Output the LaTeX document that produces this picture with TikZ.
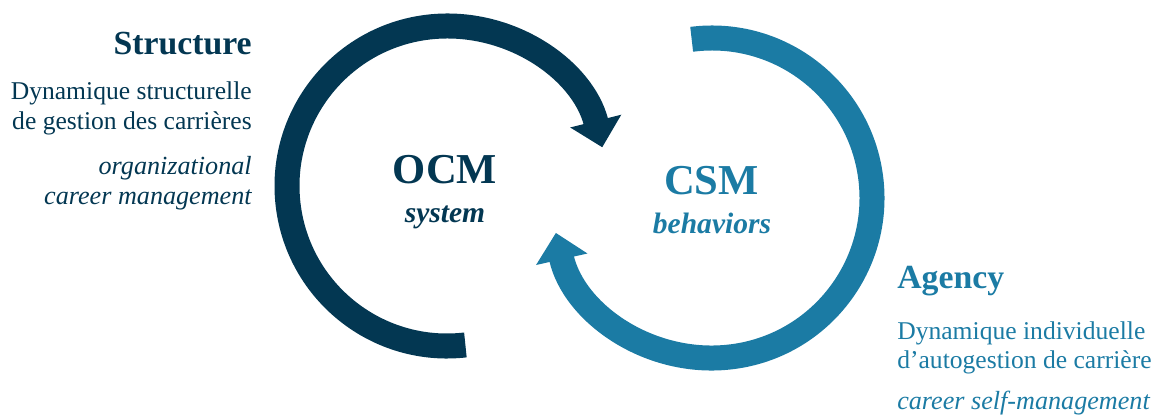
\documentclass[tikz,border=0pt]{standalone}
\usepackage{fontspec}
\setmainfont{Liberation Serif}
\usetikzlibrary{arrows.meta}
\definecolor{ocmblue}{RGB}{3,55,82}
\definecolor{csmblue}{RGB}{27,123,164}

\begin{document}
\begin{tikzpicture}[x=0.025cm, y=0.025cm, every node/.style={inner sep=0pt},
    loop/.style={line width=0.625cm, -{Triangle[width=1.275cm,length=0.675cm]}},
    head/.style={font=\fontsize{24}{28}\selectfont\bfseries},
    desc/.style={font=\fontsize{18.2}{21}\selectfont},
    trans/.style={font=\fontsize{18.6}{21}\selectfont\itshape},
    big/.style={font=\fontsize{30.3}{34}\selectfont\bfseries},
    small/.style={font=\fontsize{21}{24}\selectfont\bfseries\itshape}]
                \useasboundingbox (0,0) rectangle (1158,416);

                % Centres of the two loops
                \coordinate (ocmc) at (447,230);
                \coordinate (csmc) at (712,218);

                % Draw the two circular arrows
                \draw[loop, ocmblue] ([shift={(276.6:160)}]ocmc) arc[start angle=276.6, end angle=14, radius=160];
                \draw[loop, csmblue] ([shift={(97.3:160)}]csmc) arc[start angle=97.3, end angle=-167.4, radius=160];

                % Add labels inside the loops
                \node[big, ocmblue, anchor=base] (ocm) at (445,233) {OCM};
                \node[small, ocmblue, anchor=base] (system) at (445,194) {system};
                \node[big, csmblue, anchor=base] (csm) at (711.5,222) {CSM};
                \node[small, csmblue, anchor=base] (behaviors) at (712,183) {behaviors};

                % Structure side
                \node[head, ocmblue, anchor=base east] (structure) at (252,361) {Structure};
                \node[desc, ocmblue, anchor=base east] (dynstruct1) at (252,316) {Dynamique structurelle};
                \node[desc, ocmblue, anchor=base east] (dynstruct2) at (252,286) {de gestion des carrières};
                \node[trans, ocmblue, anchor=base east] (ocmen1) at (252,242) {organizational};
                \node[trans, ocmblue, anchor=base east] (ocmen2) at (252,212) {career management};

                % Agency side
                \node[head, csmblue, anchor=base west] (agency) at (897,128) {Agency};
                \node[desc, csmblue, anchor=base west] (dynindiv1) at (897,77) {Dynamique individuelle};
                \node[desc, csmblue, anchor=base west] (dynindiv2) at (897,48) {d’autogestion de carrière};
                \node[trans, csmblue, anchor=base west] (csmen) at (897,7) {career self-management};
            \end{tikzpicture}
\end{document}
